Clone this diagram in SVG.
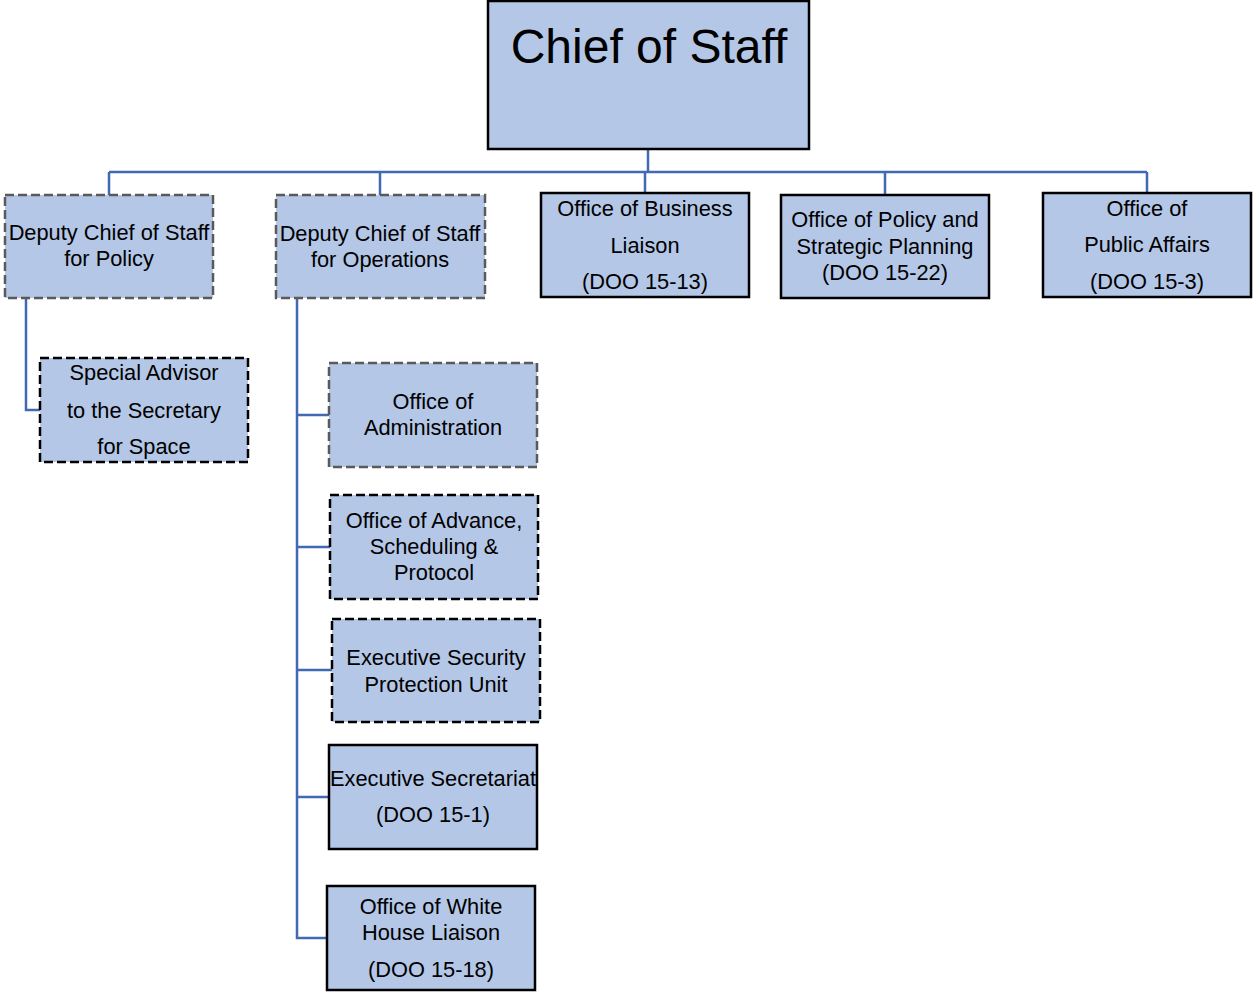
<svg xmlns="http://www.w3.org/2000/svg" width="1253" height="992" viewBox="0 0 1253 992">
<style>
.box{fill:#B4C7E7}
.solid{stroke:#000;stroke-width:2.5}
.dashg{stroke:#5A5A5A;stroke-width:2.5;stroke-dasharray:9 4}
.dashb{stroke:#000;stroke-width:2.5;stroke-dasharray:9 4}
text{font-family:"Liberation Sans",Arial,sans-serif;font-size:21.8px;fill:#000;text-anchor:middle}
.big{font-size:48px}
.conn{fill:none;stroke:#4169B4;stroke-width:2.5}
</style>
<rect width="1253" height="992" fill="#fff"/>
<g id="connectors">
<path class="conn" d="M648 149V172M109 172H1147M109 172V195M380 172V195M645 172V193M885 172V195M1147 172V193"/>
<path class="conn" d="M26 298V410H40"/>
<path class="conn" d="M297 298V938H327M297 415H329M297 547H330M297 670H332M297 797H329"/>
</g>
<g id="chief">
<rect class="box solid" x="488" y="1" width="321" height="148"/>
<text class="big" x="649" y="63">Chief of Staff</text>
</g>
<g id="dcos-policy">
<rect class="box dashg" x="5" y="195" width="208" height="103"/>
<text x="109" y="240">Deputy Chief of Staff</text>
<text x="109" y="266">for Policy</text>
</g>
<g id="dcos-ops">
<rect class="box dashg" x="276" y="195" width="209" height="103"/>
<text x="380" y="241">Deputy Chief of Staff</text>
<text x="380" y="267">for Operations</text>
</g>
<g id="business">
<rect class="box solid" x="541" y="193" width="208" height="104"/>
<text x="645" y="216">Office of Business</text>
<text x="645" y="253">Liaison</text>
<text x="645" y="289">(DOO 15-13)</text>
</g>
<g id="policy-planning">
<rect class="box solid" x="781" y="195" width="208" height="103"/>
<text x="885" y="227">Office of Policy and</text>
<text x="885" y="254">Strategic Planning</text>
<text x="885" y="280">(DOO 15-22)</text>
</g>
<g id="public-affairs">
<rect class="box solid" x="1043" y="193" width="208" height="104"/>
<text x="1147" y="216">Office of</text>
<text x="1147" y="252">Public Affairs</text>
<text x="1147" y="289">(DOO 15-3)</text>
</g>
<g id="special-advisor">
<rect class="box dashb" x="40" y="358" width="208" height="104"/>
<text x="144" y="380">Special Advisor</text>
<text x="144" y="418">to the Secretary</text>
<text x="144" y="454">for Space</text>
</g>
<g id="administration">
<rect class="box dashg" x="329" y="363" width="208" height="104"/>
<text x="433" y="409">Office of</text>
<text x="433" y="435">Administration</text>
</g>
<g id="advance">
<rect class="box dashb" x="330" y="495" width="208" height="104"/>
<text x="434" y="528">Office of Advance,</text>
<text x="434" y="554">Scheduling &amp;</text>
<text x="434" y="580">Protocol</text>
</g>
<g id="security">
<rect class="box dashb" x="332" y="619" width="208" height="103"/>
<text x="436" y="665">Executive Security</text>
<text x="436" y="692">Protection Unit</text>
</g>
<g id="secretariat">
<rect class="box solid" x="329" y="745" width="208" height="104"/>
<text x="433" y="786">Executive Secretariat</text>
<text x="433" y="822">(DOO 15-1)</text>
</g>
<g id="white-house">
<rect class="box solid" x="327" y="886" width="208" height="104"/>
<text x="431" y="914">Office of White</text>
<text x="431" y="940">House Liaison</text>
<text x="431" y="977">(DOO 15-18)</text>
</g>
</svg>
